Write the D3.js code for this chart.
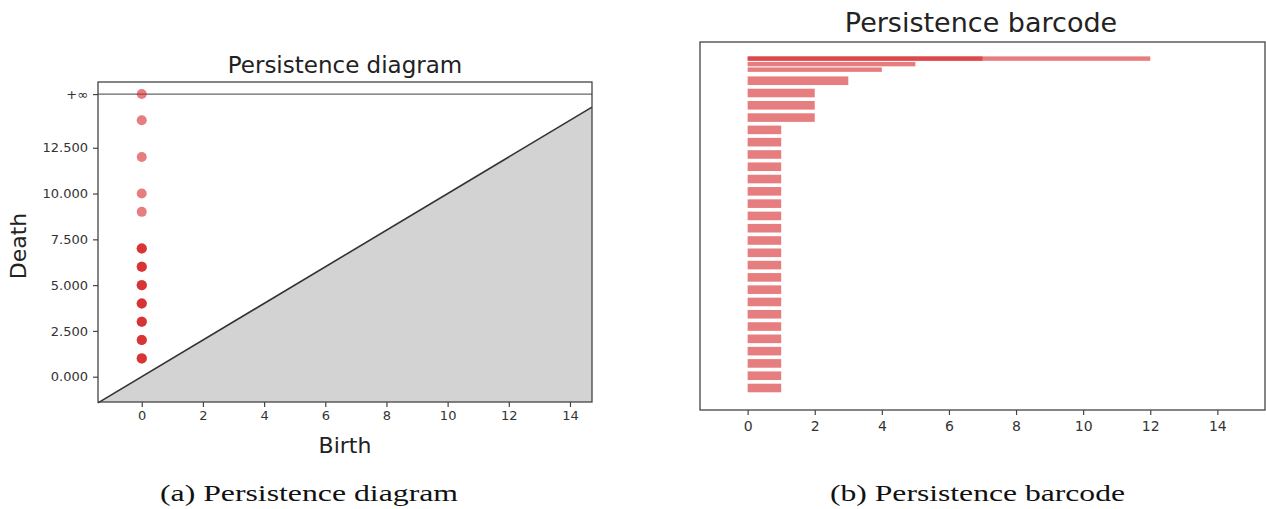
<!DOCTYPE html>
<html>
<head>
<meta charset="utf-8">
<style>
  body { margin: 0; background: #fff; }
  svg { display: block; }
  .tick text { font-family: "DejaVu Sans", sans-serif; fill: #333; }
  .tick line { stroke: #444; stroke-width: 1.2; }
  .ttl { font-family: "DejaVu Sans", sans-serif; fill: #222; }
  .cap { font-family: "Liberation Serif", serif; fill: #111; }
</style>
</head>
<body>
<script src="https://cdn.jsdelivr.net/npm/d3@7/dist/d3.min.js"></script>
<script>
// ---- persistence diagram (birth, death) ----
const diagramBirths = [0, 0, 0, 0, 0, 0, 0, 0, 0, 0, 0, 0, 0, 0, 0, 0, 0, 0, 0, 0, 0, 0, 0, 0, 0, 0];
const diagramDeaths = [Infinity, 14, 12, 10, 9, 7, 7, 7, 6, 6, 6, 5, 5, 5, 4, 4, 4, 3, 3, 3, 2, 2, 2, 1, 1, 1];
const diagramXTicks = [0, 2, 4, 6, 8, 10, 12, 14];
const diagramYTicks = [0, 2.5, 5, 7.5, 10, 12.5];
const infLevel = 15.43;   // where gudhi puts the +inf row

// ---- persistence barcode ----
const barBirths = [0, 0, 0, 0, 0, 0, 0, 0, 0, 0, 0, 0, 0, 0, 0, 0, 0, 0, 0, 0, 0, 0, 0, 0, 0, 0, 0, 0, 0, 0];
const barDeaths = [12, 7, 5, 4, 3, 2, 2, 2, 1, 1, 1, 1, 1, 1, 1, 1, 1, 1, 1, 1, 1, 1, 1, 1, 1, 1, 1, 1, 1, 1];
const barRows   = [26.8, 26.8, 26.35, 25.9, 25, 24, 23, 22, 21, 20, 19, 18, 17, 16, 15, 14, 13, 12, 11, 10, 9, 8, 7, 6, 5, 4, 3, 2, 1, 0];
const barcodeXTicks = [0, 2, 4, 6, 8, 10, 12, 14];

const red = "#d62728";

const svg = d3.select("body").append("svg")
  .attr("width", 1266).attr("height", 509);

// ================= left: diagram =================
const xD = d3.scaleLinear().domain([-1.43, 14.72]).range([98, 592]);
const yD = d3.scaleLinear().domain([-1.38, 16.09]).range([402, 82]);
const [lo, hi] = xD.domain();

const gD = svg.append("g");

gD.append("path")
  .attr("d", d3.line()([[xD(lo), yD(lo)], [xD(hi), yD(hi)], [xD(hi), yD(yD.domain()[0])], [xD(lo), yD(yD.domain()[0])]]))
  .attr("fill", "#d3d3d3");

gD.append("line")
  .attr("x1", xD(lo)).attr("y1", yD(lo)).attr("x2", xD(hi)).attr("y2", yD(hi))
  .attr("stroke", "#333").attr("stroke-width", 1.6);

gD.append("line")
  .attr("x1", xD(lo)).attr("x2", xD(hi))
  .attr("y1", yD(infLevel)).attr("y2", yD(infLevel))
  .attr("stroke", "#666").attr("stroke-width", 1.3);

const pts = diagramBirths.map((b, i) => ({ b, d: diagramDeaths[i] }));
gD.selectAll("circle.pt").data(pts).join("circle")
  .attr("class", "pt")
  .attr("cx", d => xD(d.b))
  .attr("cy", d => yD(isFinite(d.d) ? d.d : infLevel))
  .attr("r", 5)
  .attr("fill", red).attr("fill-opacity", 0.6);

gD.append("rect")
  .attr("x", 98).attr("y", 82).attr("width", 592 - 98).attr("height", 402 - 82)
  .attr("fill", "none").attr("stroke", "#444").attr("stroke-width", 1.3);

const axXD = gD.append("g").attr("transform", "translate(0,402)")
  .call(d3.axisBottom(xD).tickValues(diagramXTicks).tickSize(5).tickPadding(4).tickFormat(d3.format("d")));
const axYD = gD.append("g").attr("transform", "translate(98,0)")
  .call(d3.axisLeft(yD).tickValues(diagramYTicks.concat([infLevel])).tickSize(5).tickPadding(5)
    .tickFormat(d => d === infLevel ? "+\u221e" : d3.format(".3f")(d)));
[axXD, axYD].forEach(a => { a.select(".domain").remove(); a.selectAll("text").style("font-size", "13px"); });

gD.append("text").attr("class", "ttl")
  .attr("x", 345).attr("y", 73).attr("text-anchor", "middle")
  .style("font-size", "23px").text("Persistence diagram");
gD.append("text").attr("class", "ttl")
  .attr("x", 345).attr("y", 453).attr("text-anchor", "middle")
  .style("font-size", "22px").text("Birth");
gD.append("text").attr("class", "ttl")
  .attr("transform", "translate(26,246) rotate(-90)").attr("text-anchor", "middle")
  .style("font-size", "22px").text("Death");

// ================= right: barcode =================
const xB = d3.scaleLinear().domain([-1.42, 15.42]).range([700, 1265]);
const yB = d3.scaleLinear().domain([-1.79, 28.15]).range([410, 42]);

const bars = barBirths.map((b, i) => ({ b, d: barDeaths[i], r: barRows[i] }));
// bar thickness: 0.7 row, squeezed where rows sit closer together
const distinct = Array.from(new Set(barRows)).sort((a, b) => a - b);
bars.forEach(bar => {
  const k = distinct.indexOf(bar.r);
  const gaps = [];
  if (k > 0) gaps.push(bar.r - distinct[k - 1]);
  if (k < distinct.length - 1) gaps.push(distinct[k + 1] - bar.r);
  bar.h = Math.min(0.7, 0.8 * d3.min(gaps));
});

const gB = svg.append("g");
gB.selectAll("rect.bar").data(bars).join("rect")
  .attr("class", "bar")
  .attr("x", d => xB(d.b))
  .attr("width", d => xB(d.d) - xB(d.b))
  .attr("y", d => yB(d.r + d.h / 2))
  .attr("height", d => yB(d.r - d.h / 2) - yB(d.r + d.h / 2))
  .attr("fill", red).attr("fill-opacity", 0.6);

gB.append("rect")
  .attr("x", 700).attr("y", 42).attr("width", 1265 - 700).attr("height", 410 - 42)
  .attr("fill", "none").attr("stroke", "#444").attr("stroke-width", 1.3);

const axXB = gB.append("g").attr("transform", "translate(0,410)")
  .call(d3.axisBottom(xB).tickValues(barcodeXTicks).tickSize(5).tickPadding(6).tickFormat(d3.format("d")));
axXB.select(".domain").remove();
axXB.selectAll("text").style("font-size", "14px");

gB.append("text").attr("class", "ttl")
  .attr("x", 981).attr("y", 32).attr("text-anchor", "middle")
  .style("font-size", "27px").text("Persistence barcode");

// ================= captions =================
svg.append("text").attr("class", "cap")
  .attr("x", 160).attr("y", 501)
  .attr("textLength", 298).attr("lengthAdjust", "spacingAndGlyphs")
  .style("font-size", "24px").text("(a) Persistence diagram");
svg.append("text").attr("class", "cap")
  .attr("x", 830).attr("y", 501)
  .attr("textLength", 295).attr("lengthAdjust", "spacingAndGlyphs")
  .style("font-size", "24px").text("(b) Persistence barcode");
</script>
</body>
</html>
